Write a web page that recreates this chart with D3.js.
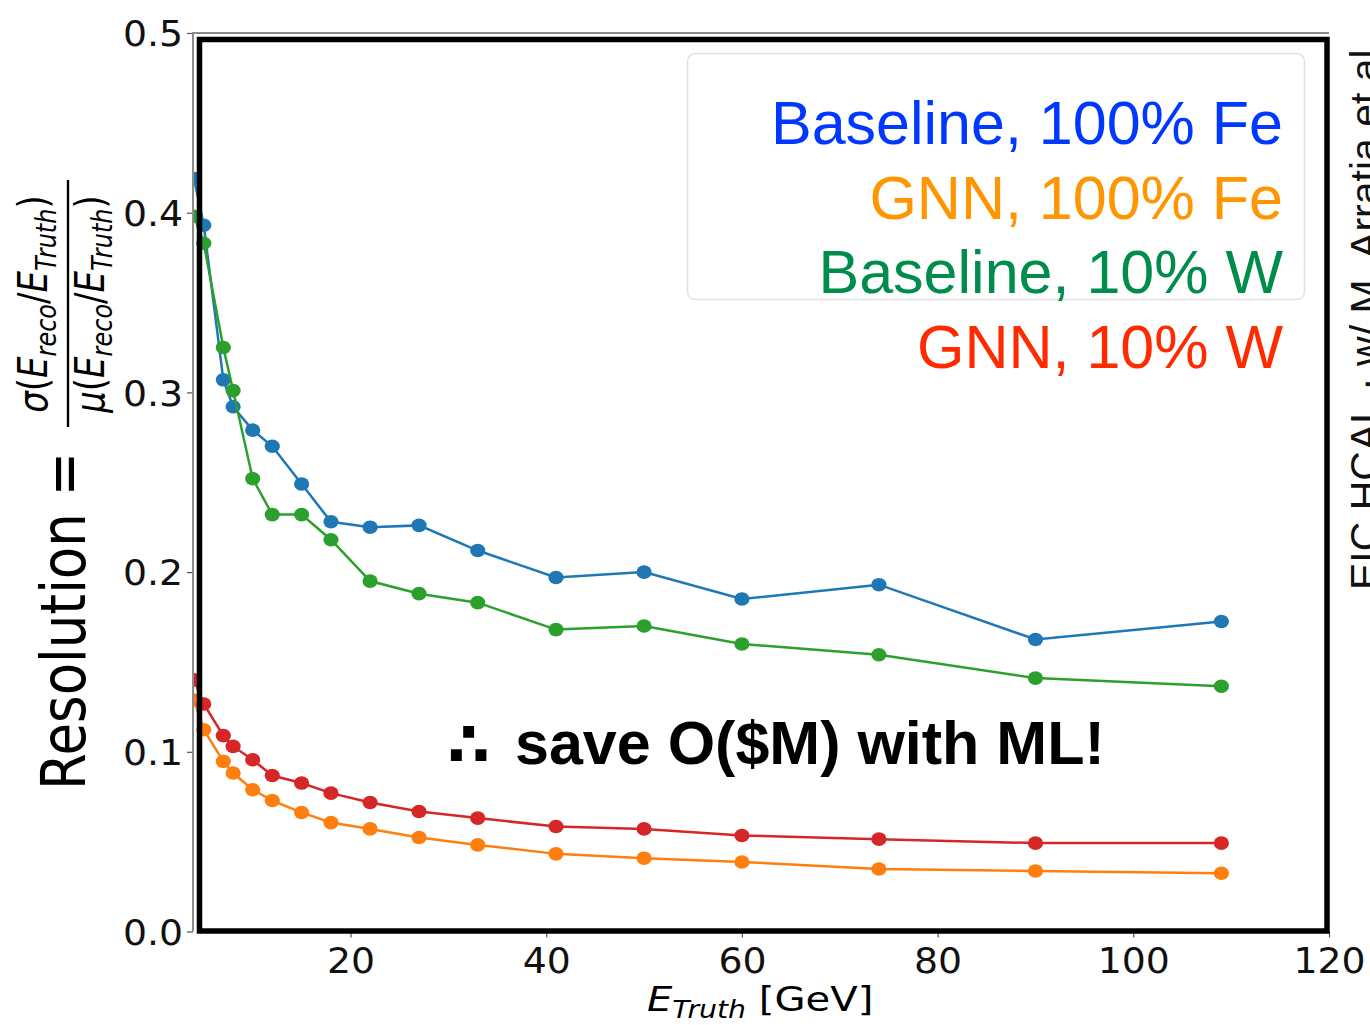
<!DOCTYPE html>
<html>
<head>
<meta charset="utf-8">
<script src="https://cdn.jsdelivr.net/npm/d3@7"></script>
<style>
  body { margin: 0; background: #fff; }
  svg { display: block; }
</style>
</head>
<body>
<div class="chart"></div>
<script>
// beam energies (GeV) and resolution for each configuration
const energies    = [4, 5, 7, 8, 10, 12, 15, 18, 22, 27, 33, 41, 50, 60, 74, 90, 109];
const baselineFe  = [0.419, 0.393, 0.307, 0.292, 0.279, 0.270, 0.249, 0.228, 0.225, 0.226, 0.212, 0.197, 0.200, 0.185, 0.193, 0.1625, 0.1725];
const gnnFe       = [0.1288, 0.1123, 0.0947, 0.0882, 0.0789, 0.0729, 0.0662, 0.0606, 0.0571, 0.0523, 0.0482, 0.0432, 0.0408, 0.0387, 0.0348, 0.0337, 0.0324];
const baselineW   = [0.398, 0.383, 0.325, 0.301, 0.252, 0.232, 0.232, 0.218, 0.195, 0.188, 0.183, 0.168, 0.170, 0.160, 0.154, 0.141, 0.1365];
const gnnW        = [0.140, 0.1266, 0.109, 0.103, 0.0956, 0.0868, 0.0826, 0.077, 0.0718, 0.0668, 0.0631, 0.0584, 0.0571, 0.0534, 0.0514, 0.0492, 0.0492];

const seriesNames = ["Baseline, 100% Fe", "GNN, 100% Fe", "Baseline, 10% W", "GNN, 10% W"];
const xTicks = [20, 40, 60, 80, 100, 120];
const yTicks = [0, 0.1, 0.2, 0.3, 0.4, 0.5];

const lineColors  = ["#1f77b4", "#ff7f0e", "#2ca02c", "#d62728"];
const labelColors = ["#0038ff", "#ff9500", "#008c4b", "#ff2a00"];

const series = [baselineFe, gnnFe, baselineW, gnnW].map((vals, i) => ({
  name: seriesNames[i],
  color: lineColors[i],
  points: energies.map((e, j) => ({ e: e, v: vals[j] }))
}));

const w = 1370, h = 1025;
const sx = 1.08;  // tick text is drawn a little wide in the pasted plot
const sxl = 1.18; // axis titles

const x = d3.scaleLinear().domain([3.9, 120]).range([193, 1329]);
const y = d3.scaleLinear().domain([0, 0.5]).range([931.5, 33]);

const svg = d3.select(".chart").append("svg")
  .attr("width", w)
  .attr("height", h);

svg.append("defs").append("clipPath").attr("id", "plot-clip")
  .append("rect")
  .attr("x", x.range()[0]).attr("y", y.range()[1])
  .attr("width", x.range()[1] - x.range()[0])
  .attr("height", y.range()[0] - y.range()[1]);

// legend frame (matplotlib leftover)
svg.append("rect")
  .attr("x", 687.5).attr("y", 53.5)
  .attr("width", 617).attr("height", 246)
  .attr("rx", 8)
  .attr("fill", "#fff")
  .attr("stroke", "#e2e2e2")
  .attr("stroke-width", 1.5);

// series
const plot = svg.append("g").attr("clip-path", "url(#plot-clip)");
const line = d3.line().x(d => x(d.e)).y(d => y(d.v));

series.forEach(s => {
  const g = plot.append("g");
  g.append("path")
    .attr("d", line(s.points))
    .attr("fill", "none")
    .attr("stroke", s.color)
    .attr("stroke-width", 2.5);
  g.selectAll("ellipse")
    .data(s.points)
    .enter()
    .append("ellipse")
    .attr("cx", d => x(d.e))
    .attr("cy", d => y(d.v))
    .attr("rx", 7.6)
    .attr("ry", 6.8)
    .attr("fill", s.color);
});

// axes
const yAxis = svg.append("g")
  .attr("transform", "translate(" + x.range()[0] + ",0)")
  .call(d3.axisLeft(y).tickValues(yTicks).tickFormat(d3.format(".1f")).tickSize(6));
const xAxis = svg.append("g")
  .attr("transform", "translate(0," + y.range()[0] + ")")
  .call(d3.axisBottom(x).tickValues(xTicks).tickFormat(d3.format("d")).tickSize(6));

[yAxis, xAxis].forEach(a => {
  a.select(".domain").remove();
  a.selectAll(".tick line").attr("stroke", "#555").attr("stroke-width", 1.2);
  a.selectAll(".tick text")
    .attr("font-family", "DejaVu Sans")
    .attr("font-size", 35)
    .attr("fill", "#111");
});
yAxis.selectAll(".tick text")
  .attr("x", -10 / sx)
  .attr("dy", "0.36em")
  .attr("transform", "scale(" + sx + ",1)");
xAxis.selectAll(".tick text")
  .attr("y", 17)
  .attr("dy", "0.71em")
  .attr("transform", "scale(" + sx + ",1)");

// thin grey spines of the original axes
svg.append("path")
  .attr("d", "M" + x.range()[0] + "," + y.range()[0] + "V" + y.range()[1] + "H" + x.range()[1])
  .attr("fill", "none")
  .attr("stroke", "#8c8c8c")
  .attr("stroke-width", 2);

// heavy black frame drawn on top
svg.append("rect")
  .attr("x", 199.5).attr("y", 39.5)
  .attr("width", 1327 - 199.5).attr("height", 931 - 39.5)
  .attr("fill", "none")
  .attr("stroke", "#000")
  .attr("stroke-width", 5.5);

// y label: Resolution = sigma(...)/mu(...)
const yl = svg.append("g")
  .attr("transform", "translate(85,790) scale(" + sxl + ",1) rotate(-90)")
  .attr("font-family", "DejaVu Sans")
  .attr("fill", "#000");
yl.append("text")
  .attr("x", 0).attr("y", 0)
  .attr("font-size", 53)
  .text("Resolution =");

function mathTerm(g, lead, yPos) {
  const t = g.append("text")
    .attr("x", 486).attr("y", yPos)
    .attr("text-anchor", "middle")
    .attr("font-size", 34)
    .attr("font-style", "italic");
  t.append("tspan").text(lead);
  t.append("tspan").attr("font-style", "normal").text("(");
  t.append("tspan").text("E");
  t.append("tspan").attr("font-size", 24).attr("dy", 7).text("reco");
  t.append("tspan").attr("font-style", "normal").attr("dy", -7).text("/");
  t.append("tspan").text("E");
  t.append("tspan").attr("font-size", 24).attr("dy", 7).text("Truth");
  t.append("tspan").attr("font-style", "normal").attr("dy", -7).text(")");
}
mathTerm(yl, "σ", -32);
mathTerm(yl, "μ", 16);
yl.append("line")
  .attr("x1", 363).attr("x2", 610)
  .attr("y1", -14.4).attr("y2", -14.4)
  .attr("stroke", "#000")
  .attr("stroke-width", 2);

// x label
const xl = svg.append("text")
  .attr("transform", "translate(647,1011) scale(" + sxl + ",1)")
  .attr("font-family", "DejaVu Sans")
  .attr("font-size", 34)
  .attr("fill", "#000");
xl.append("tspan").attr("font-style", "italic").text("E");
xl.append("tspan").attr("font-style", "italic").attr("font-size", 24).attr("dy", 7).text("Truth");
xl.append("tspan").attr("dy", -7).text(" [GeV]");

// coloured legend text
svg.selectAll(".leg")
  .data(series)
  .enter()
  .append("text")
  .attr("class", "leg")
  .attr("x", 1283)
  .attr("y", (d, i) => 144 + i * 74.5)
  .attr("text-anchor", "end")
  .attr("font-family", "Liberation Sans, Arial, sans-serif")
  .attr("font-size", 61)
  .attr("fill", (d, i) => labelColors[i])
  .text(d => d.name);

// annotation
svg.append("text")
  .attr("x", 447).attr("y", 766)
  .attr("font-family", "DejaVu Sans")
  .attr("font-weight", "bold")
  .attr("font-size", 62)
  .text("∴");
svg.append("text")
  .attr("x", 515).attr("y", 764)
  .attr("font-family", "Liberation Sans, Arial, sans-serif")
  .attr("font-weight", "bold")
  .attr("font-size", 61)
  .text("save O($M) with ML!");

// credit on the right edge, partly off the page as in the slide
svg.append("text")
  .attr("transform", "translate(1379,590) rotate(-90)")
  .attr("font-family", "Liberation Sans, Arial, sans-serif")
  .attr("font-size", 41)
  .attr("fill", "#111")
  .text("EIC HCAL · w/ M. Arratia et al");
</script>
</body>
</html>
